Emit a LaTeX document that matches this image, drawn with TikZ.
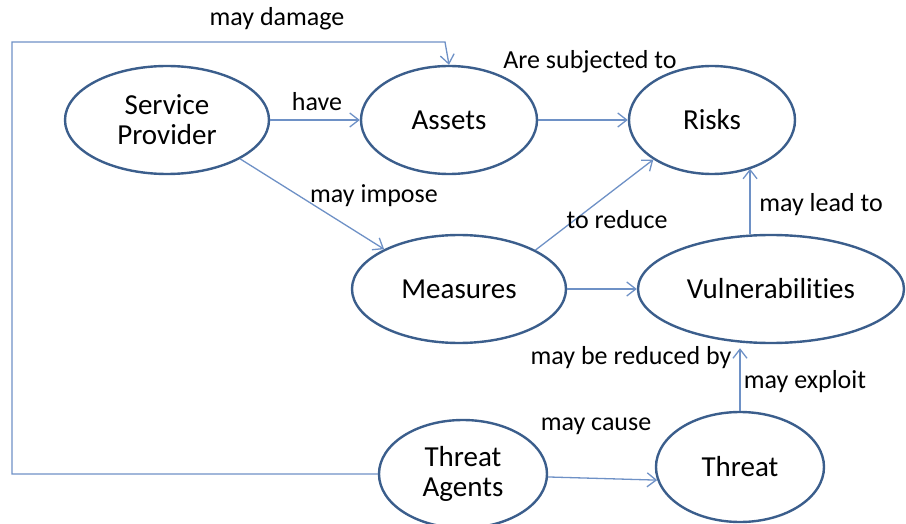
\documentclass[tikz,border=0pt]{standalone}
\usepackage{fontspec}
\setmainfont{Carlito}[Ligatures={NoCommon,NoContextual}]
\usetikzlibrary{shapes.geometric,arrows.meta}
\definecolor{rim}{HTML}{3B5E8C}
\definecolor{link}{HTML}{6E91C6}
\begin{document}
\begin{tikzpicture}[x=1pt,y=-1pt,
  entity/.style={ellipse,draw=rim,line width=2.4pt,fill=white,inner sep=0pt,
    font=\fontsize{29}{30}\selectfont,align=center},
  arr/.style={draw=link,line width=1.3pt,-{Straight Barb[length=9pt,width=14pt,line width=1.3pt]}},
  lbl/.style={anchor=base,inner sep=0pt,font=\fontsize{26}{28}\selectfont}]
\useasboundingbox (0,0) rectangle (906,524);

% entities
\node[entity,minimum width=204pt,minimum height=108pt] (sp) at (167,120) {Service\\Provider};
\node[entity,minimum width=176pt,minimum height=108pt] (assets) at (449,120) {Assets};
\node[entity,minimum width=166pt,minimum height=108pt] (risks) at (712,120) {Risks};
\node[entity,minimum width=214pt,minimum height=108pt] (meas) at (459,289) {Measures};
\node[entity,minimum width=266pt,minimum height=108pt] (vuln) at (771,289) {Vulnerabilities};
\node[entity,minimum width=168pt,minimum height=108pt] (ta) at (463,474) {Threat\\Agents};
\node[entity,minimum width=168pt,minimum height=110pt] (threat) at (740,467) {Threat};

% corners of the outer path
\coordinate (cornerL) at (12,42);
\coordinate (cornerR) at (445,42);

% relations
\draw[arr] (sp.east) -- (assets.west);
\draw[arr] (assets.east) -- (risks.west);
\draw[arr] (sp.-28) -- (meas.152);
\draw[arr] (meas.27) -- (risks.-146);
\draw[arr] (meas.east) -- (vuln.west);
\draw[arr] (vuln.111.5) -- (vuln.111.5 |- risks.-51.6);
\draw[arr,shorten >=4pt] (threat.north) -- (threat.north |- vuln.south);
\draw[arr] (ta.-2) -- (threat.-171);
\draw[arr] (ta.west) -| (cornerL) -- (cornerR) -- (assets.north);

% relation labels
\node[lbl] (l1) at (277,26) {may damage};
\node[lbl] (l2) at (317,111) {have};
\node[lbl] (l3) at (590,69) {Are subjected to};
\node[lbl] (l4) at (374,203) {may impose};
\node[lbl] (l5) at (617,229) {to reduce};
\node[lbl] (l6) at (821,212) {may lead to};
\node[lbl] (l7) at (631,364) {may be reduced by};
\node[lbl] (l8) at (805,388) {may exploit};
\node[lbl] (l9) at (596,430) {may cause};
\end{tikzpicture}
\end{document}
